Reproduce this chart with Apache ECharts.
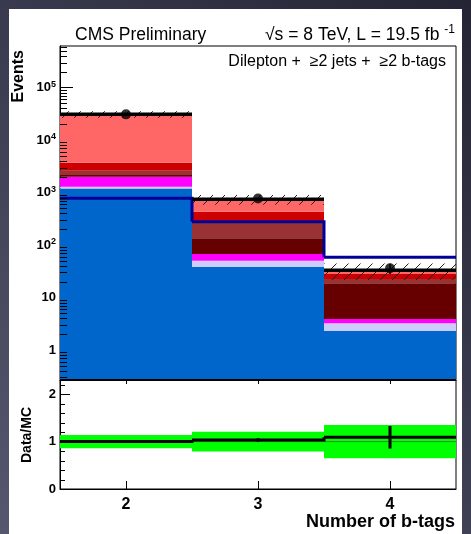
<!DOCTYPE html>
<html>
<head>
<meta charset="utf-8">
<script src="https://cdn.jsdelivr.net/npm/echarts@6/dist/echarts.min.js"></script>
<style>
  html, body { margin: 0; padding: 0; background: #2c2c3e; }
  #chart { width: 471px; height: 534px; }
</style>
</head>
<body>
<div id="chart"></div>
<script>
// ---- bins: number of b-tagged jets ----
const nBtags = [2, 3, 4];

// ---- expected background yields per bin, stacked bottom -> top ----
const ewk       = [1200, 38.6, 2.3];
const ttV       = [90, 11.6, 0.92];
const singleTop = [710, 17.2, 0.67];
const ttbb      = [155, 66.6, 14.7];
const ttb       = [450, 152, 3.9];
const ttcc      = [1100, 145, 5.5];
const ttlf      = [27200, 314, 5.0];

// ---- signal (drawn as an outline, not stacked) ----
const ttH = [776, 278, 58.3];

// ---- observed data ----
const dataCounts = [30900, 771, 36];
const dataErr    = [176, 28, 7.9];

// ---- relative uncertainty of the total expectation ----
const mcRelUnc = [0.14, 0.21, 0.35];

// ---- axis ticks ----
const mainTicks  = [1, 10, 100, 1000, 10000, 100000];
const ratioTicks = [0, 1, 2];
const xTicks     = [2, 3, 4];

const FONT = "'Liberation Sans', Arial, Helvetica, sans-serif";
const yMin = 0.28, yMax = 620000;
const xMin = 1.5, xMax = 4.5;

const layers = [
  { name: 'EW',        values: ewk,       color: '#0066cc' },
  { name: 'tt+V',      values: ttV,       color: '#ccccff' },
  { name: 'single t',  values: singleTop, color: '#ff00ff' },
  { name: 'tt+bb',     values: ttbb,      color: '#660000' },
  { name: 'tt+b',      values: ttb,       color: '#993333' },
  { name: 'tt+cc',     values: ttcc,      color: '#cc0000' },
  { name: 'tt+lf',     values: ttlf,      color: '#ff6666' }
];

// cumulative stack bounds
const running = nBtags.map(() => 0);
const layerData = layers.map(l => {
  return nBtags.map((x, i) => {
    const lo = running[i] === 0 ? yMin : running[i];
    running[i] += l.values[i];
    return [x, lo, running[i]];
  });
});
const mcTotal = running.slice();

// minor log ticks 2..9 per decade
const minorLog = [];
for (let e = -1; e <= 5; e++) {
  for (let m = 2; m <= 9; m++) {
    const v = m * Math.pow(10, e);
    if (v > yMin && v < yMax) minorLog.push(v);
  }
}
// minor ratio ticks every 0.2
const ratioMinor = [];
for (let k = 1; k <= 11; k++) {
  if (k % 5 !== 0) ratioMinor.push(+(k * 0.2).toFixed(1));
}

// diagonal hatch used for the expectation uncertainty
const hatch = document.createElement('canvas');
hatch.width = 12; hatch.height = 12;
(function () {
  const g = hatch.getContext('2d');
  g.strokeStyle = '#222';
  g.lineWidth = 1;
  g.beginPath();
  g.moveTo(0, 12); g.lineTo(12, 0);
  g.moveTo(-6, 6); g.lineTo(6, -6);
  g.moveTo(6, 18); g.lineTo(18, 6);
  g.stroke();
})();

function binRect(fill) {
  return function (params, api) {
    const x = api.value(0), lo = api.value(1), hi = api.value(2);
    const p0 = api.coord([x - 0.5, hi]);
    const p1 = api.coord([x + 0.5, lo]);
    return {
      type: 'rect',
      shape: { x: p0[0], y: p0[1], width: p1[0] - p0[0], height: p1[1] - p0[1] },
      style: { fill: fill }
    };
  };
}

// horizontal bin line with a vertical step to the next bin's value
function stepLine(color, width, withStep) {
  return function (params, api) {
    const x = api.value(0), v = api.value(1), vNext = api.value(2);
    const pts = [api.coord([x - 0.5, v]), api.coord([x + 0.5, v])];
    if (withStep) pts.push(api.coord([x + 0.5, vNext]));
    return {
      type: 'polyline',
      shape: { points: pts },
      style: { stroke: color, lineWidth: width, fill: null }
    };
  };
}

function errBar(color, width) {
  return function (params, api) {
    const x = api.value(0), lo = api.value(1), hi = api.value(2);
    const a = api.coord([x, lo]), b = api.coord([x, hi]);
    return {
      type: 'line',
      shape: { x1: a[0], y1: a[1], x2: b[0], y2: b[1] },
      style: { stroke: color, lineWidth: width }
    };
  };
}

// short inward tick on the left axis at a given y value
function leftTick(len) {
  return function (params, api) {
    const p = api.coord([xMin, api.value(1)]);
    const y = Math.round(p[1]) + 0.5;
    return {
      type: 'line',
      shape: { x1: p[0], y1: y, x2: p[0] + len, y2: y },
      style: { stroke: '#000', lineWidth: 1 }
    };
  };
}

const ratio = dataCounts.map((d, i) => d / mcTotal[i]);
const ratioErr = dataErr.map((e, i) => e / mcTotal[i]);

const series = [];
layers.forEach((l, k) => {
  series.push({
    name: l.name, type: 'custom', xAxisIndex: 0, yAxisIndex: 0,
    renderItem: binRect(l.color), encode: { x: 0, y: [1, 2] },
    data: layerData[k], z: 2, silent: true
  });
});
series.push({
  name: 'MC uncertainty', type: 'custom', xAxisIndex: 0, yAxisIndex: 0,
  renderItem: binRect({ image: hatch, repeat: 'repeat' }), encode: { x: 0, y: [1, 2] },
  data: nBtags.map((x, i) => [x, mcTotal[i] * (1 - mcRelUnc[i]), mcTotal[i] * (1 + mcRelUnc[i])]),
  z: 3, silent: true
});
series.push({
  name: 'ttH', type: 'custom', xAxisIndex: 0, yAxisIndex: 0,
  renderItem: stepLine('#000099', 3, true), encode: { x: 0, y: [1, 2] },
  data: nBtags.map((x, i) => [x, ttH[i], i + 1 < ttH.length ? ttH[i + 1] : ttH[i]]),
  z: 4, silent: true
});
series.push({
  name: 'total', type: 'custom', xAxisIndex: 0, yAxisIndex: 0,
  renderItem: stepLine('#000', 3.5, false), encode: { x: 0, y: [1, 2] },
  data: nBtags.map((x, i) => [x, mcTotal[i], mcTotal[i]]),
  z: 5, silent: true
});
series.push({
  name: 'data err', type: 'custom', xAxisIndex: 0, yAxisIndex: 0,
  renderItem: errBar('#000', 1.5), encode: { x: 0, y: [1, 2] },
  data: nBtags.map((x, i) => [x, dataCounts[i] - dataErr[i], dataCounts[i] + dataErr[i]]),
  z: 6, silent: true
});
series.push({
  name: 'Data', type: 'scatter', xAxisIndex: 0, yAxisIndex: 0,
  symbol: 'circle', symbolSize: 10, itemStyle: { color: '#000' },
  data: nBtags.map((x, i) => [x, dataCounts[i]]), z: 7, silent: true
});
series.push({
  name: 'log minor ticks', type: 'custom', xAxisIndex: 0, yAxisIndex: 0,
  renderItem: leftTick(7), encode: { x: 0, y: 1 },
  data: minorLog.map(v => [xMin, v]), z: 8, silent: true
});

// ratio panel
series.push({
  name: 'ratio band', type: 'custom', xAxisIndex: 1, yAxisIndex: 1,
  renderItem: binRect('#00ff00'), encode: { x: 0, y: [1, 2] },
  data: nBtags.map((x, i) => [x, 1 - mcRelUnc[i], 1 + mcRelUnc[i]]),
  z: 2, silent: true
});
series.push({
  name: 'ratio ref', type: 'custom', xAxisIndex: 1, yAxisIndex: 1,
  renderItem: stepLine('#2e8b2e', 1, false), encode: { x: 0, y: [1, 2] },
  data: nBtags.map(x => [x, 1, 1]), z: 3, silent: true
});
series.push({
  name: 'ratio', type: 'custom', xAxisIndex: 1, yAxisIndex: 1,
  renderItem: stepLine('#000', 3, true), encode: { x: 0, y: [1, 2] },
  data: nBtags.map((x, i) => [x, ratio[i], i + 1 < ratio.length ? ratio[i + 1] : ratio[i]]),
  z: 4, silent: true
});
series.push({
  name: 'ratio err', type: 'custom', xAxisIndex: 1, yAxisIndex: 1,
  renderItem: errBar('#000', 3), encode: { x: 0, y: [1, 2] },
  data: nBtags.map((x, i) => [x, ratio[i] - ratioErr[i], ratio[i] + ratioErr[i]]),
  z: 5, silent: true
});
series.push({
  name: 'ratio minor ticks', type: 'custom', xAxisIndex: 1, yAxisIndex: 1,
  renderItem: leftTick(5), encode: { x: 0, y: 1 },
  data: ratioMinor.map(v => [xMin, v]), z: 8, silent: true
});

const boldLabel = { fontFamily: FONT, fontWeight: 'bold', color: '#000' };

const option = {
  animation: false,
  backgroundColor: new echarts.graphic.LinearGradient(1, 0, 0, 1, [
    { offset: 0, color: '#242434' },
    { offset: 1, color: '#56566f' }
  ]),
  grid: [
    { left: 60, right: 15, top: 46, height: 333, show: true, borderColor: '#000', borderWidth: 1, containLabel: false },
    { left: 60, right: 15, top: 380, height: 109, show: true, borderColor: '#000', borderWidth: 1, containLabel: false }
  ],
  xAxis: [
    {
      gridIndex: 0, type: 'value', min: xMin, max: xMax,
      axisLine: { show: true, lineStyle: { color: '#000', width: 1 } },
      axisTick: { show: true, inside: true, length: 9, customValues: xTicks, lineStyle: { color: '#000' } },
      axisLabel: { show: false }, splitLine: { show: false }
    },
    {
      gridIndex: 1, type: 'value', min: xMin, max: xMax,
      axisLine: { show: true, lineStyle: { color: '#000', width: 1 } },
      axisTick: { show: true, inside: true, length: 8, customValues: xTicks, lineStyle: { color: '#000' } },
      axisLabel: Object.assign({ show: true, fontSize: 16, margin: 8, customValues: xTicks, formatter: v => String(v) }, boldLabel),
      splitLine: { show: false }
    },
    {
      gridIndex: 1, type: 'value', min: xMin, max: xMax, position: 'top',
      axisLine: { show: true, lineStyle: { color: '#000', width: 1 } },
      axisTick: { show: true, inside: true, length: 4, customValues: xTicks, lineStyle: { color: '#000' } },
      axisLabel: { show: false }, splitLine: { show: false }
    }
  ],
  yAxis: [
    {
      gridIndex: 0, type: 'log', logBase: 10, min: yMin, max: yMax, position: 'left',
      axisLine: { show: true, lineStyle: { color: '#000', width: 1 } },
      axisTick: { show: true, inside: true, length: 13, customValues: mainTicks, lineStyle: { color: '#000' } },
      axisLabel: {
        show: true, margin: 4, customValues: mainTicks,
        formatter: v => {
          const e = Math.round(Math.log10(v));
          return e >= 2 ? '{b|10}{s|' + e + '}' : '{b|' + Math.round(v) + '}';
        },
        rich: {
          b: Object.assign({ fontSize: 13 }, boldLabel),
          s: Object.assign({ fontSize: 9, padding: [0, 0, 7, 0] }, boldLabel)
        }
      },
      splitLine: { show: false }
    },
    {
      gridIndex: 1, type: 'value', min: 0, max: 2.3, position: 'left',
      axisLine: { show: true, lineStyle: { color: '#000', width: 1 } },
      axisTick: { show: true, inside: true, length: 10, customValues: ratioTicks, lineStyle: { color: '#000' } },
      axisLabel: Object.assign({ show: true, fontSize: 13, margin: 4, customValues: ratioTicks, formatter: v => String(v) }, boldLabel),
      splitLine: { show: false }
    }
  ],
  graphic: {
    elements: [
      { type: 'rect', shape: { x: 9, y: 9, width: 453, height: 525 }, style: { fill: '#ffffff' }, z: -10, silent: true },
      { type: 'text', x: 75, y: 35, style: { text: 'CMS Preliminary', font: '17.5px ' + FONT, fill: '#000', align: 'left', verticalAlign: 'middle' } },
      {
        type: 'text', x: 265, y: 35,
        style: {
          text: '{n|√s = 8 TeV, L = 19.5 fb }{s|-1}',
          align: 'left', verticalAlign: 'middle',
          rich: {
            n: { fontSize: 17.5, fontFamily: FONT, fill: '#000' },
            s: { fontSize: 12, fontFamily: FONT, fill: '#000', padding: [0, 0, 10, 0] }
          }
        }
      },
      { type: 'text', x: 446, y: 62, style: { text: 'Dilepton +  ≥2 jets +  ≥2 b-tags', font: '16px ' + FONT, fill: '#000', align: 'right', verticalAlign: 'middle' } },
      { type: 'text', x: 19, y: 50, rotation: Math.PI / 2, style: { text: 'Events', font: 'bold 16px ' + FONT, fill: '#000', align: 'right', verticalAlign: 'middle' } },
      { type: 'text', x: 27, y: 435, rotation: Math.PI / 2, style: { text: 'Data/MC', font: 'bold 14px ' + FONT, fill: '#000', align: 'center', verticalAlign: 'middle' } },
      { type: 'text', x: 455, y: 522, style: { text: 'Number of b-tags', font: 'bold 18px ' + FONT, fill: '#000', align: 'right', verticalAlign: 'middle' } }
    ]
  },
  series: series
};

const chart = echarts.init(document.getElementById('chart'), null, { renderer: 'canvas' });
chart.setOption(option);
</script>
</body>
</html>
